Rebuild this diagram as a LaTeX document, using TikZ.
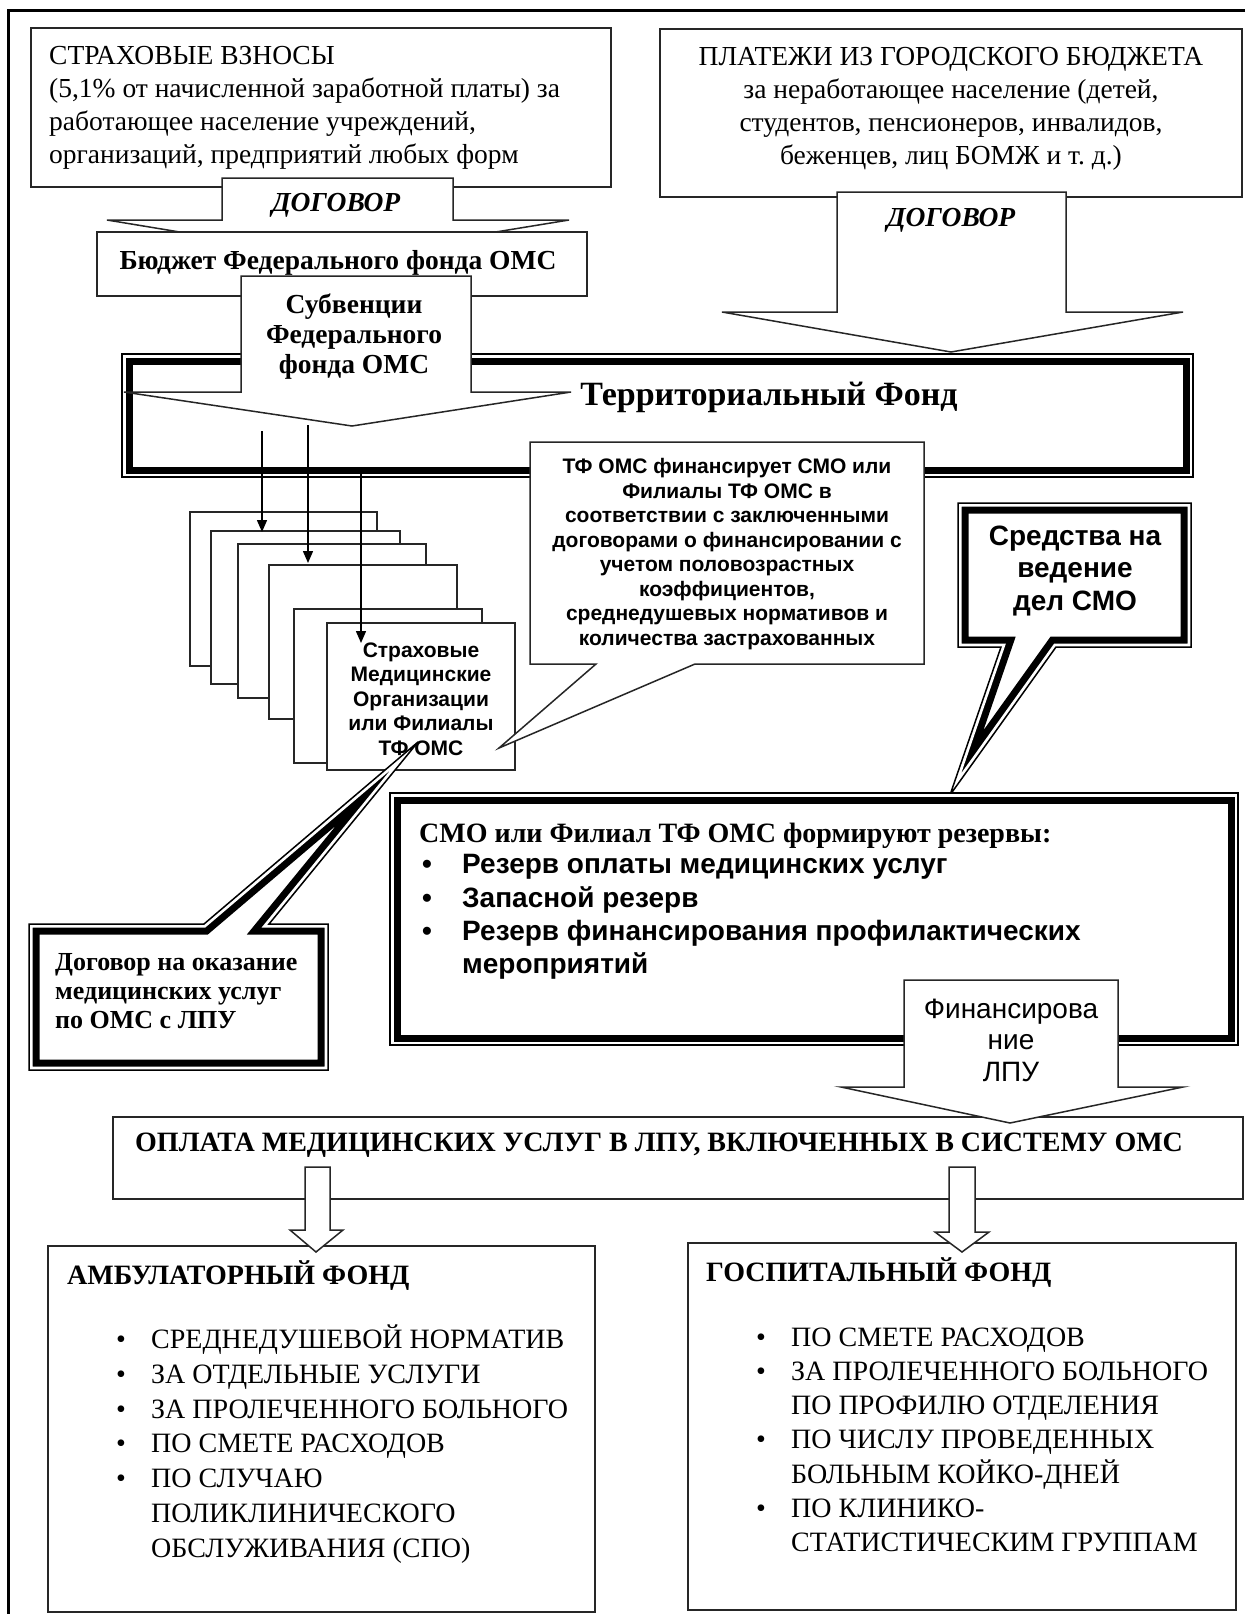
\documentclass[tikz,border=0pt]{standalone}
\usepackage{fontspec}
\setmainfont{Liberation Serif}
\setsansfont{Liberation Sans}
\usetikzlibrary{arrows.meta}
\newcommand{\dblframe}[1]{%
\begin{scope}
\fill[white] #1;
\clip #1;
\draw[line width=21pt] #1;
\draw[white, line width=7pt] #1;
\end{scope}
\draw[line width=1.5pt] #1;}
\begin{document}
\begin{tikzpicture}[x=1pt, y=-1pt, line join=miter,
boxline/.style={draw=black!85, line width=1.5pt, fill=white},
rmtext/.style={inner sep=0pt, font=\fontsize{27.5}{33}\selectfont},
bftext/.style={inner sep=0pt, font=\bfseries\fontsize{27.5}{30}\selectfont},
dogtext/.style={inner sep=0pt, font=\bfseries\itshape\fontsize{27.5}{33}\selectfont},
sftext/.style={inner sep=0pt, align=center, font=\sffamily\bfseries\fontsize{21}{24.5}\selectfont},
listtext/.style={inner sep=0pt, anchor=west, font=\fontsize{28}{34.5}\selectfont},
arr/.style={line width=1.5pt, -{Triangle[length=12pt, width=10pt]}}]
\useasboundingbox (0,0) rectangle (1245,1614);
\draw[line width=3pt] (1245,10) -- (8.5,10) -- (8.5,1614);
\draw[boxline] (31,28) rectangle (611,187);
\node[rmtext, align=left, anchor=west] (vznosy) at (49,108) {СТРАХОВЫЕ ВЗНОСЫ\\(5,1\% от начисленной заработной платы) за\\работающее население учреждений,\\организаций, предприятий любых форм};
\draw[boxline] (660,29) rectangle (1242,197);
\node[rmtext, align=center] (platezhi) at (951,109) {ПЛАТЕЖИ ИЗ ГОРОДСКОГО БЮДЖЕТА\\за неработающее население (детей,\\студентов, пенсионеров, инвалидов,\\беженцев, лиц БОМЖ и т.~д.)};
\draw[boxline] (222,178) -- (453,178) -- (453,220) -- (569,220) -- (337,258) -- (107,220) -- (222,220) -- cycle;
\node[dogtext] (dog1) at (336,205) {ДОГОВОР};
\draw[boxline] (837,192) -- (1066,192) -- (1066,312) -- (1183,312) -- (951,352) -- (722,312) -- (837,312) -- cycle;
\node[dogtext] (dog2) at (951,220) {ДОГОВОР};
\draw[boxline] (97,232) rectangle (587,296);
\node[bftext] (budget) at (338,263) {Бюджет Федерального фонда ОМС};
\dblframe{(122,354) rectangle (1193,477)}
\node[inner sep=0pt, font=\bfseries\fontsize{34}{40}\selectfont] (tfoms) at (769,397) {Территориальный Фонд};
\draw[boxline] (241,276) -- (471,276) -- (471,392) -- (571,392) -- (352,426) -- (124,392) -- (241,392) -- cycle;
\node[bftext, align=center] (subv) at (354,337) {Субвенции\\Федерального\\фонда ОМС};
\draw[boxline] (190,512) rectangle (377,666);
\draw[boxline] (211,531) rectangle (400,684);
\draw[boxline] (238,544) rectangle (426,698);
\draw[boxline] (269,565) rectangle (457,719);
\draw[boxline] (294,609) rectangle (482,763);
\draw[boxline] (327,623) rectangle (515,770);
\node[sftext] (smo) at (421,699) {Страховые\\Медицинские\\Организации\\или Филиалы\\ТФ ОМС};
\coordinate (s1) at (262,431);
\coordinate (e1) at (262,532);
\coordinate (s2) at (308,425);
\coordinate (e2) at (308,563);
\coordinate (s3) at (361,473);
\coordinate (e3) at (361,643);
\draw[arr] (s1) -- (e1);
\draw[arr] (s2) -- (e2);
\draw[arr] (s3) -- (e3);
\draw[boxline] (530,442) -- (924,442) -- (924,664) -- (695,664) -- (499,748) -- (596,664) -- (530,664) -- cycle;
\node[sftext] (finsmo) at (727,554) {ТФ ОМС финансирует СМО или\\Филиалы ТФ ОМС в\\соответствии с заключенными\\договорами о финансировании с\\учетом половозрастных\\коэффициентов,\\среднедушевых нормативов и\\количества застрахованных};
\dblframe{(958,503) -- (1191,503) -- (1191,647) -- (1056,647) -- (950,795) -- (1001,647) -- (958,647) -- cycle}
\node[sftext, font=\sffamily\bfseries\fontsize{28}{32.5}\selectfont] (sredstva) at (1075,571) {Средства на\\ведение\\дел СМО};
\dblframe{(390,793) rectangle (1238,1045)}
\node[inner sep=0pt, anchor=west, font=\bfseries\fontsize{28}{33}\selectfont] (rezerv) at (419,836) {СМО или Филиал ТФ ОМС формируют резервы:};
\node[inner sep=0pt, anchor=west, font=\sffamily\bfseries\fontsize{28}{33.3}\selectfont] (rezlist) at (422,917) {\begin{tabular}{@{}p{40pt}@{}l@{}}•&Резерв оплаты медицинских услуг\\•&Запасной резерв\\•&Резерв финансирования профилактических\\&мероприятий\end{tabular}};
\dblframe{(29,924) -- (204,924) -- (418,742) -- (269,924) -- (328,924) -- (328,1070) -- (29,1070) -- cycle}
\node[inner sep=0pt, anchor=west, align=left, font=\bfseries\fontsize{26}{29}\selectfont] (dogovor) at (55,991) {Договор на оказание\\медицинских услуг\\по ОМС с ЛПУ};
\draw[boxline] (113,1117) rectangle (1243,1199);
\node[inner sep=0pt, anchor=west, font=\bfseries\fontsize{28}{33}\selectfont] (oplata) at (135,1145) {ОПЛАТА МЕДИЦИНСКИХ УСЛУГ В ЛПУ, ВКЛЮЧЕННЫХ В СИСТЕМУ ОМС};
\draw[boxline] (904,980) -- (1118,980) -- (1118,1087) -- (1183,1087) -- (1010,1123) -- (841,1087) -- (904,1087) -- cycle;
\node[inner sep=0pt, align=center, font=\sffamily\fontsize{28}{31.5}\selectfont] (finlpu) at (1011,1040) {Финансирова\\ние\\ЛПУ};
\draw[boxline] (48,1246) rectangle (595,1612);
\node[inner sep=0pt, anchor=west, font=\bfseries\fontsize{28}{33}\selectfont] (amb) at (67,1276) {АМБУЛАТОРНЫЙ ФОНД};
\node[listtext, font=\fontsize{28}{34.7}\selectfont] (ambl) at (116,1446) {\begin{tabular}{@{}p{35pt}@{}l@{}}•&СРЕДНЕДУШЕВОЙ НОРМАТИВ\\•&ЗА ОТДЕЛЬНЫЕ УСЛУГИ\\•&ЗА ПРОЛЕЧЕННОГО БОЛЬНОГО\\•&ПО СМЕТЕ РАСХОДОВ\\•&ПО СЛУЧАЮ\\&ПОЛИКЛИНИЧЕСКОГО\\&ОБСЛУЖИВАНИЯ (СПО)\end{tabular}};
\draw[boxline] (688,1243) rectangle (1236,1610);
\node[inner sep=0pt, anchor=west, font=\bfseries\fontsize{28}{33}\selectfont] (gosp) at (706,1273) {ГОСПИТАЛЬНЫЙ ФОНД};
\node[listtext, font=\fontsize{28}{34.2}\selectfont] (gospl) at (756,1442) {\begin{tabular}{@{}p{35pt}@{}l@{}}•&ПО СМЕТЕ РАСХОДОВ\\•&ЗА ПРОЛЕЧЕННОГО БОЛЬНОГО\\&ПО ПРОФИЛЮ ОТДЕЛЕНИЯ\\•&ПО ЧИСЛУ ПРОВЕДЕННЫХ\\&БОЛЬНЫМ КОЙКО-ДНЕЙ\\•&ПО КЛИНИКО-\\&СТАТИСТИЧЕСКИМ ГРУППАМ\end{tabular}};
\draw[boxline] (305,1167) -- (330,1167) -- (330,1230) -- (343,1230) -- (316,1252) -- (290,1230) -- (305,1230) -- cycle;
\draw[boxline] (949,1167) -- (975,1167) -- (975,1232) -- (989,1232) -- (962,1252) -- (935,1232) -- (949,1232) -- cycle;
\end{tikzpicture}
\end{document}
